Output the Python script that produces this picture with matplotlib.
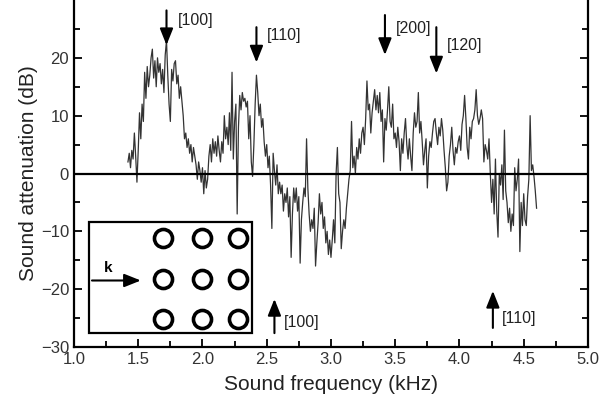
import matplotlib
matplotlib.use('Agg')
import matplotlib.pyplot as plt
import matplotlib.patches as patches
import numpy as np

plt.rcParams['font.family'] = ['Liberation Sans', 'DejaVu Sans']

# measured attenuation, one value every 0.01 kHz from 1.42 to 4.60 kHz
freq_start, freq_step = 1.42, 0.01
atten = [
    2.0, 3.5, 1.0, 4.0, 2.5, 7.0, 3.0, -1.5,
    4.0, 10.5, 6.0, 12.0, 9.0, 17.5, 13.0, 18.5, 15.0, 17.0,
    20.0, 21.5, 16.5, 19.5, 15.0, 20.0, 17.5, 19.0, 15.5, 18.0,
    14.0, 20.5, 23.0, 17.0, 12.0, 9.0, 18.0, 16.0, 19.0, 19.5,
    15.5, 17.0, 13.0, 15.0, 12.5, 10.0, 6.0, 7.0, 4.5, 6.0,
    3.5, 5.0, 2.0, 4.5, 3.0, 1.5, -1.0, 2.0, 0.5, -1.5,
    1.0, -3.5, 0.5, -2.5, -1.0, 3.0, 5.0, 2.0, 6.0, 3.5,
    5.5, 3.0, 6.5, 4.0, 2.0, 5.5, 3.5, 10.0, 6.0, 8.0,
    5.0, 10.5, 4.0, 17.5, 2.5, 9.0, 12.0, -7.0, 8.0, 13.5,
    11.0, 14.0, 12.5, 13.0, 11.5, 12.5, 6.0, 10.0, 2.0, -0.5,
    5.0, 12.0, 17.0, 14.0, 10.0, 12.0, 8.0, 9.5, 5.5, 3.0,
    5.0, 1.0, 3.0, -2.0, -9.5, 3.5, 0.5, -2.0, 1.5, -3.5,
    -1.5, -3.5, -2.0, -6.5, -3.5, -5.0, -2.5, -7.5, -4.0, -14.5,
    -7.0, -2.5, -5.0, -2.5, -6.5, -4.0, -15.5, -8.0, -5.0, -2.5,
    -4.0, 6.0, -2.5, -7.0, -10.0, -8.0, -9.5, -6.0, -16.0, -12.0,
    -8.5, -3.5, -7.0, -5.0, -9.5, -7.5, -12.0, -10.0, -14.0, -11.5,
    -14.5, -11.5, -8.0, -12.0, 0.0, 4.5, -3.5, -5.0, -13.0, -10.0,
    -8.0, -9.5, -6.0, -3.5, -1.0, 0.5, 9.0, 1.0, 3.0, 0.0,
    4.5, 2.5, 6.0, 3.5, 7.0, 8.0, 5.0, 9.5, 16.0, 11.0,
    12.0, 7.0, 10.5, 12.5, 14.5, 11.0, 13.5, 10.5, 14.0, 9.0,
    11.0, 2.0, 9.5, 7.5, 11.0, 15.0, 9.0, 8.0, 12.0, 6.0,
    7.0, 4.5, 8.0, 5.5, 0.5, 6.0, 3.5, 7.0, 9.5, 5.0,
    2.5, 6.0, 3.0, 0.5, 7.0, 10.5, 8.0, 9.0, 14.0, 7.0,
    9.0, 5.5, 1.5, 4.0, 6.0, -2.5, 3.0, 5.5, 4.5, 7.0,
    9.0, 9.5, 7.0, 5.0, 8.0, 6.5, 9.5, 7.5, 4.0, 1.0,
    -3.0, -1.5, 3.0, 5.0, 8.0, 4.0, 1.5, 4.5, 3.5, 5.5,
    6.5, 4.0, 8.5, 10.0, 13.5, 9.5, 4.5, 2.5, 8.0, 6.0,
    9.0, 9.5, 11.0, 14.5, 10.0, 8.5, 9.5, 11.0, 9.5, 2.0,
    5.0, 4.0, 2.5, 6.0, 0.0, -5.0, -1.0, -7.0, 2.5, -6.5,
    -11.0, 0.0, -2.0, 1.5, -4.5, 7.5, -3.0, -5.0, -8.5, -6.0,
    -10.0, -7.0, -9.0, 1.0, -3.0, -1.0, 2.5, -13.5, -5.0, -9.0,
    -3.5, -8.0, -9.0, -4.0, -1.0, 10.0, 0.5, 1.5, -0.5, -3.0,
    -6.0,
]
freq = freq_start + freq_step * np.arange(len(atten))

# Bragg peak markers: (frequency, label)
down_marks = [(1.72, '[100]'), (2.42, '[110]'), (3.42, '[200]'), (3.82, '[120]')]
up_marks = [(2.56, '[100]'), (4.26, '[110]')]

# inset lattice of cylinders
lattice_x = [1.69, 2.0, 2.28]
lattice_y = [-11.1, -18.2, -25.1]

fig = plt.figure(figsize=(6.01, 4.07), dpi=100)
ax = fig.add_axes([0.1231, 0.1474, 0.8552, 0.8526])

ax.plot(freq, atten, color='0.2', lw=0.9)
ax.axhline(0, color='k', lw=1.6)

ax.set_xlim(1.0, 5.0)
ax.set_ylim(-30, 30)
ax.set_xticks(np.arange(1.0, 5.01, 0.5))
ax.set_xticks(np.arange(1.25, 5.0, 0.5), minor=True)
ax.set_yticks([-30, -20, -10, 0, 10, 20])
ax.set_yticks([-25, -15, -5, 5, 15, 25], minor=True)
ax.set_xticklabels(['%.1f' % v for v in np.arange(1.0, 5.01, 0.5)])
ax.set_yticklabels(['\u221230', '\u221220', '\u221210', '0', '10', '20'])
ax.tick_params(which='both', direction='in', right=True, top=False,
               labelsize=12, colors='k', labelcolor='#333333', width=1.3)
ax.tick_params(which='major', length=6)
ax.tick_params(which='minor', length=4)
ax.spines['top'].set_visible(False)
for s in ['left', 'right', 'bottom']:
    ax.spines[s].set_linewidth(1.6)

ax.set_xlabel('Sound frequency (kHz)', fontsize=15, color='#222222', labelpad=6)
ax.set_ylabel('Sound attenuation (dB)', fontsize=15, color='#222222', labelpad=2)

arr = dict(arrowstyle='-|>,head_length=0.5,head_width=0.2', lw=1.5,
           color='k', shrinkA=0, shrinkB=0, mutation_scale=20)
down_pos = {'[100]': (28.2, 22.2, 26.5), '[110]': (25.3, 19.2, 23.9),
            '[200]': (27.4, 20.5, 25.1), '[120]': (25.3, 17.3, 22.2)}
for f, lab in down_marks:
    top, tip, ty = down_pos[lab]
    ax.annotate('', xy=(f, tip), xytext=(f, top), arrowprops=arr)
    ax.text(f + 0.085, ty, lab, fontsize=11.5, color='#222222', va='center', ha='left')

up_pos = [(-27.6, -21.7, -25.8), (-26.7, -20.3, -25.0)]
for (f, lab), (bot, tip, ty) in zip(up_marks, up_pos):
    ax.annotate('', xy=(f, tip), xytext=(f, bot), arrowprops=arr)
    ax.text(f + 0.07, ty, lab, fontsize=11.5, color='#222222', va='center', ha='left')

# inset
ax.add_patch(patches.Rectangle((1.117, -27.6), 1.268, 19.3, fill=False,
                               lw=1.6, ec='k', zorder=3))
gx, gy = np.meshgrid(lattice_x, lattice_y)
ax.plot(gx.ravel(), gy.ravel(), 'o', ms=13, mfc='none', mec='k', mew=2.6, zorder=4)
ax.annotate('', xy=(1.52, -18.5), xytext=(1.14, -18.5), arrowprops=arr)
ax.text(1.265, -16.3, 'k', fontsize=11, fontweight='bold', ha='center', va='center')

fig.savefig('out.png', dpi=100)
